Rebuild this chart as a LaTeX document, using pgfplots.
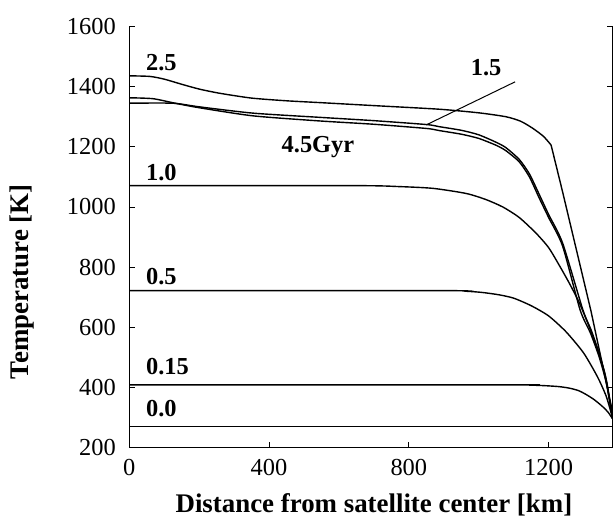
\documentclass[border=0pt]{standalone}
\usepackage{fontspec}
\setmainfont{Liberation Serif}
\usepackage{pgfplots}
\pgfplotsset{compat=1.18}
\usetikzlibrary{calc}
\pgfplotsset{curve/.style={black, solid, mark=none, line width=1.4bp, smooth, tension=0.4}}
\begin{document}
\begin{tikzpicture}
\begin{axis}[
 scale only axis, width=483.7bp, height=421.5bp,
 xmin=0, xmax=1383, ymin=200, ymax=1600,
 axis x line=bottom, axis y line=box,
 axis line style={-, line width=0.8bp},
 tick align=inside, major tick length=6bp,
 xtick={0,400,800,1200}, ytick={200,400,...,1600},
 tick style={line width=0.8bp, black},
 ticklabel style={font=\fontsize{24.5}{26}\selectfont},
 xticklabel style={yshift=-8bp},
 yticklabel style={xshift=-10bp},
 /pgf/number format/assume math mode=true,
 /pgf/number format/1000 sep={},
 xlabel={Distance from satellite center [km]},
 ylabel={Temperature [K]},
 every axis x label/.style={at={(axis description cs:0.5062,-0.155)}, anchor=base, font=\fontsize{27}{29}\selectfont\bfseries},
 every axis y label/.style={at={(axis description cs:-0.2212,0.394)}, anchor=center, rotate=90, font=\fontsize{27}{29}\selectfont\bfseries},
]
% 0.0 Gyr
\addplot[curve] coordinates {(0,271) (1383,271)};
% 0.15 Gyr
\addplot[curve] coordinates {(0,409) (1100,409) (1150,408) (1192,406) (1230,403) (1259,398) (1285,390) (1307,377) (1330,360) (1354,337) (1370,318) (1383,296)};
% 0.5 Gyr
\addplot[curve] coordinates {(0,722) (900,722) (964,720) (1010,716) (1059,708) (1100,697) (1150,672) (1200,638) (1250,585) (1300,515) (1340,435) (1365,370) (1383,298)};
% 1.0 Gyr
\addplot[curve] coordinates {(0,1071) (650,1071) (769,1068) (869,1062) (964,1045) (1020,1025) (1069,1000) (1116,965) (1164,913) (1200,865) (1231,805) (1260,745) (1288,681) (1315,605) (1340,525) (1362,440) (1383,296)};
% 1.5 Gyr
\addplot[curve] coordinates {(0,1345) (125,1345) (200,1333) (354,1312) (545,1298) (700,1287) (851,1274) (887,1267) (950,1255) (1000,1240) (1050,1215) (1078,1197) (1116,1158) (1145,1110) (1173,1042) (1200,975) (1240,880) (1298,658) (1322,590) (1347,505) (1366,420) (1383,296)};
% 2.5 Gyr (smooth part, then straight drop)
\addplot[curve] coordinates {(0,1436) (59,1434) (100,1425) (150,1408) (200,1392) (259,1378) (350,1362) (450,1353) (545,1347) (700,1337) (887,1325) (1000,1313) (1078,1300) (1120,1285) (1154,1262) (1185,1235) (1207,1206)};
\addplot[curve, sharp plot] coordinates {(1207,1206) (1240,1050) (1321,655) (1383,318)};
% 4.5 Gyr
\addplot[curve] coordinates {(0,1363) (68,1360) (131,1345) (200,1330) (354,1303) (545,1286) (700,1275) (851,1261) (887,1254) (950,1242) (1000,1228) (1050,1205) (1078,1187) (1116,1150) (1145,1100) (1173,1030) (1200,965) (1240,870) (1290,658) (1320,580) (1345,500) (1365,415) (1383,296)};
% pointer for 1.5
\addplot[black, line width=1bp, sharp plot, mark=none] coordinates {(850,1273) (1104,1416)};
\begin{scope}[every node/.style={font=\fontsize{24.5}{26}\selectfont\bfseries, inner sep=0pt}]
\node[anchor=base west] at (axis cs:48,1455) {2.5};
\node[anchor=base] at (axis cs:1021,1438) {1.5};
\node[anchor=base] at (axis cs:540,1181) {4.5Gyr};
\node[anchor=base west] at (axis cs:48,1089) {1.0};
\node[anchor=base west] at (axis cs:48,741) {0.5};
\node[anchor=base west] at (axis cs:48,442) {0.15};
\node[anchor=base west] at (axis cs:48,304) {0.0};
\end{scope}
\end{axis}
\pgfresetboundingbox
\path ($(current axis.south west)+(-129.3bp,-72bp)$) rectangle ($(current axis.north east)+(0.4bp,26.5bp)$);
\end{tikzpicture}
\end{document}
